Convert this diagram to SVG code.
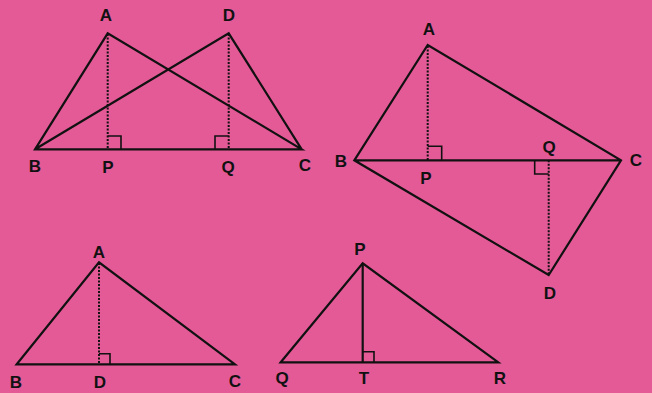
<svg xmlns="http://www.w3.org/2000/svg" width="652" height="393" viewBox="0 0 652 393">
<style>
.s{fill:none;stroke:#111;stroke-width:2.2;stroke-linejoin:miter}
.d{fill:none;stroke:#111;stroke-width:2;stroke-dasharray:2 1.5}
.r{fill:none;stroke:#111;stroke-width:1.6}
text{font-family:"Liberation Sans",Arial,sans-serif;font-weight:bold;font-size:17px;fill:#111;text-anchor:middle}
</style>
<rect width="652" height="393" fill="#e45a97"/>
<g id="fig1">
<path class="s" d="M35,149.3 L107.7,33.3 L301.7,149.3 Z M35,149.3 L228.7,33.3 L301.7,149.3"/>
<line class="d" x1="107.7" y1="34" x2="107.7" y2="149.3"/>
<line class="d" x1="228.7" y1="34" x2="228.7" y2="149.3"/>
<path class="r" d="M107.7,136 H121 V149.3"/>
<path class="r" d="M228.7,136 H215 V149.3"/>
<text x="106" y="21">A</text>
<text x="229" y="21">D</text>
<text x="35" y="172">B</text>
<text x="108" y="173">P</text>
<text x="228" y="173">Q</text>
<text x="305" y="171">C</text>
</g>
<g id="fig2">
<path class="s" d="M354.3,160.3 L427.7,45 L621,160.3 L548.7,275 Z M354.3,160.3 H621"/>
<line class="d" x1="427.7" y1="46" x2="427.7" y2="160.3"/>
<line class="d" x1="548.7" y1="160.3" x2="548.7" y2="274"/>
<path class="r" d="M427.7,146.3 H441.7 V160.3"/>
<path class="r" d="M548.7,174 H534.7 V160.3"/>
<text x="429" y="35">A</text>
<text x="341" y="167">B</text>
<text x="636" y="166">C</text>
<text x="426" y="184">P</text>
<text x="549" y="153">Q</text>
<text x="550" y="299">D</text>
</g>
<g id="fig3">
<path class="s" d="M16.7,364.3 L99,262.3 L235,364.3 Z"/>
<line class="d" x1="99" y1="263" x2="99" y2="364.3"/>
<path class="r" d="M99,353.7 H110 V364.3"/>
<text x="99" y="258">A</text>
<text x="16" y="388">B</text>
<text x="100" y="388">D</text>
<text x="235" y="387">C</text>
</g>
<g id="fig4">
<path class="s" d="M280.7,362.3 L362.7,263.3 L498.3,362.3 Z"/>
<line class="s" x1="362.7" y1="263.3" x2="362.7" y2="362.3"/>
<path class="r" d="M362.7,351.7 H374 V362.3"/>
<text x="360" y="255">P</text>
<text x="282" y="384">Q</text>
<text x="364" y="384">T</text>
<text x="500" y="384">R</text>
</g>
</svg>
